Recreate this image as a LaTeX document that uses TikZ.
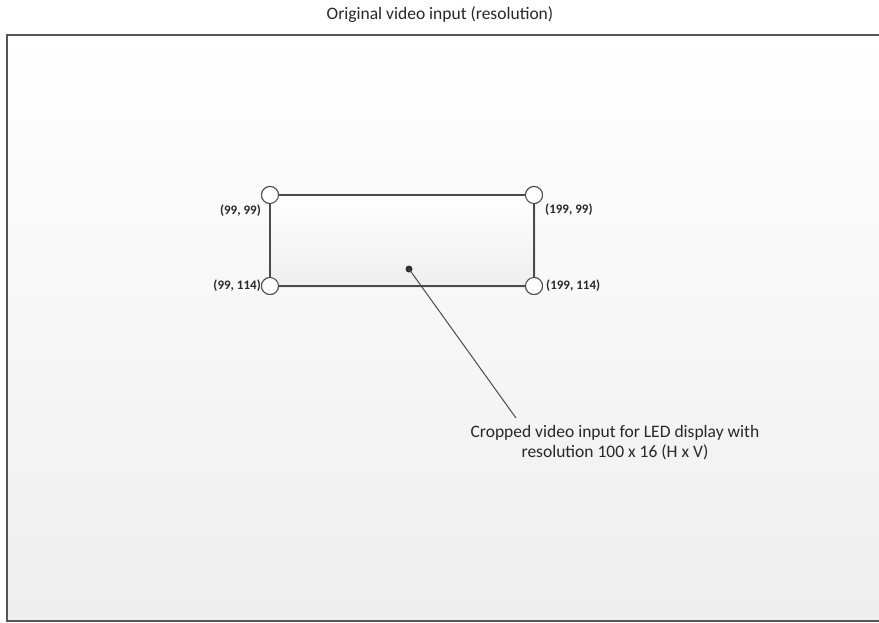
\documentclass[tikz,border=0pt]{standalone}
\usepackage{fontspec}
\setmainfont{Carlito}
\usepackage{tikz}
\usetikzlibrary{positioning, calc, shadows}
\definecolor{framegray}{RGB}{85,85,85}
\definecolor{linegray}{RGB}{75,75,75}
\definecolor{textgray}{RGB}{40,40,40}
\definecolor{bgbottom}{RGB}{238,238,238}
\definecolor{boxbottom}{RGB}{238,238,238}
\definecolor{dotdark}{RGB}{50,50,50}
\tikzset{
  corner/.style={circle, draw=linegray, fill=white, line width=1pt,
    minimum size=17pt, inner sep=0pt},
  pixlabel/.style={font=\fontsize{13}{15}\selectfont\bfseries, text=textgray, inner sep=1pt},
  edge/.style={line width=1.4pt, color=linegray},
  pointer/.style={line width=1pt, color=linegray}
}

\begin{document}
\begin{tikzpicture}[x=1pt, y=-1pt]
  \clip (0,0) rectangle (879,622);
  \fill[white] (0,0) rectangle (879,622);

  % Original frame
  \shade[top color=white, bottom color=bgbottom] (7,35) rectangle (890,621);
  \draw[line width=2pt, color=framegray] (890,35) -- (7,35) -- (7,621) -- (890,621);
  \node[font=\fontsize{17.5}{20}\selectfont, text=textgray] (title) at (440,15) {Original video input (resolution)};

  % Cropped region corners
  \node[corner] (tl) at (270,195) {};
  \node[corner] (tr) at (534,195) {};
  \node[corner] (bl) at (270,286) {};
  \node[corner] (br) at (534,286) {};
  \shade[top color=white, bottom color=boxbottom, drop shadow={opacity=0.12, shadow xshift=1.5pt, shadow yshift=-1.5pt}]
    (tl.center) rectangle (br.center);
  \draw[edge] (tl) -- (tr);
  \draw[edge] (tr) -- (br);
  \draw[edge] (br) -- (bl);
  \draw[edge] (bl) -- (tl);
  \foreach \c in {tl,tr,bl,br} \node[corner] at (\c) {};

  % Corner labels
  \node[pixlabel, anchor=east] (ltl) at (262,211) {(99, 99)};
  \node[pixlabel, anchor=west] (ltr) at (544,210) {(199, 99)};
  \node[pixlabel, anchor=east] (lbl) at (262,286) {(99, 114)};
  \node[pixlabel, anchor=west] (lbr) at (545,286) {(199, 114)};

  % Callout
  \node[circle, fill=dotdark, minimum size=7pt, inner sep=0pt] (dot) at (409,269) {};
  \node[font=\fontsize{17.5}{20}\selectfont, text=textgray, align=center] (callout) at (615,443)
    {Cropped video input for LED display with\\resolution 100 x 16 (H x V)};
  \coordinate (tip) at (516,418);
  \draw[pointer] (dot.center) -- (tip);
\end{tikzpicture}
\end{document}
